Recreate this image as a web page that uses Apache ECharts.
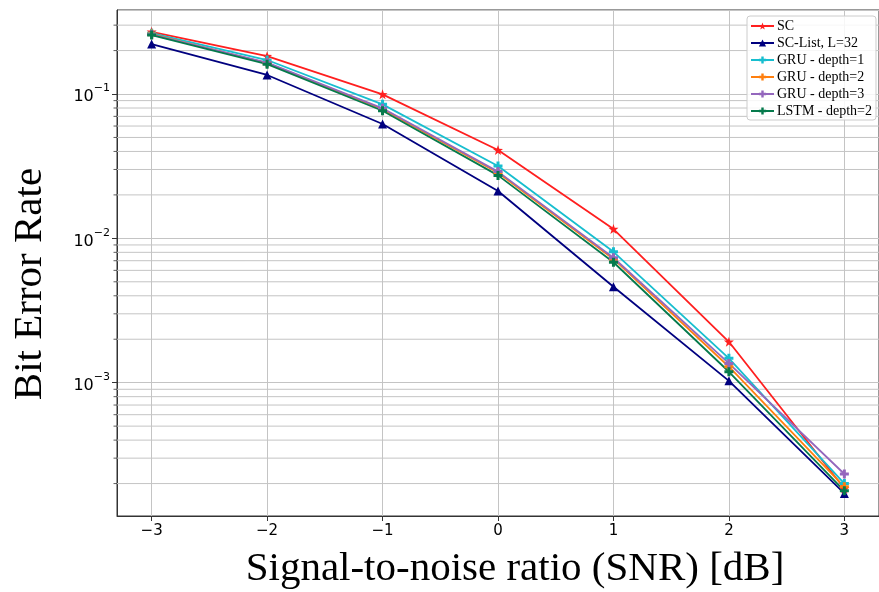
<!DOCTYPE html>
<html>
<head>
<meta charset="utf-8">
<script src="https://cdn.jsdelivr.net/npm/echarts@6/dist/echarts.min.js"></script>
<style>
html,body{margin:0;padding:0;background:#fff;}
#chart{width:879px;height:592px;}
</style>
</head>
<body>
<div id="chart"></div>
<script>
// ---- data ----
const snr = [-3, -2, -1, 0, 1, 2, 3];
const seriesNames = ['SC', 'SC-List, L=32', 'GRU - depth=1', 'GRU - depth=2', 'GRU - depth=3', 'LSTM - depth=2'];
const berSC     = [0.270, 0.183, 0.0995, 0.0409, 0.0116, 0.00192, 0.000185];
const berSCList = [0.222, 0.1355, 0.0620, 0.0213, 0.00462, 0.00103, 0.000171];
const berGRU1   = [0.264, 0.172, 0.0848, 0.0317, 0.00807, 0.001475, 0.000200];
const berGRU2   = [0.260, 0.164, 0.0785, 0.0285, 0.00720, 0.00129, 0.000190];
const berGRU3   = [0.258, 0.165, 0.0796, 0.0290, 0.00734, 0.00136, 0.000233];
const berLSTM   = [0.256, 0.161, 0.0766, 0.0273, 0.00683, 0.00119, 0.000178];
const yMajorExponents = [-3, -2, -1];
const yMinorValues = [2e-4,3e-4,4e-4,5e-4,6e-4,7e-4,8e-4,9e-4,
                      2e-3,3e-3,4e-3,5e-3,6e-3,7e-3,8e-3,9e-3,
                      2e-2,3e-2,4e-2,5e-2,6e-2,7e-2,8e-2,9e-2,
                      2e-1,3e-1];

// ---- styling ----
const colors = ['#ff1f1f', '#00007f', '#17becf', '#ff7f0e', '#9467bd', '#057a4c'];
const starPath = 'path://M0,-10L2.35,-3.24L9.51,-3.09L3.8,1.24L5.88,8.09L0,4L-5.88,8.09L-3.8,1.24L-9.51,-3.09L-2.35,-3.24Z';
const plusPath = 'path://M-1,-3L1,-3L1,-1L3,-1L3,1L1,1L1,3L-1,3L-1,1L-3,1L-3,-1L-1,-1Z';
const symbols = [starPath, 'triangle', plusPath, plusPath, plusPath, plusPath];
const symbolSizes = [10, 9, 9, 9, 9, 9];
const allData = [berSC, berSCList, berGRU1, berGRU2, berGRU3, berLSTM];

const xMin = -3.3, xMax = 3.3;
const yMin = -3.9237, yMax = -0.4179;
const supMinus = '\u2212';

const lineSeries = seriesNames.map((name, i) => ({
  name: name,
  type: 'line',
  data: snr.map((x, j) => [x, Math.log10(allData[i][j])]),
  symbol: symbols[i],
  symbolSize: symbolSizes[i],
  showAllSymbol: true,
  lineStyle: { color: colors[i], width: 1.8 },
  itemStyle: { color: colors[i] },
  emphasis: { disabled: true },
  animation: false,
  z: 3
}));

const minorSeries = {
  type: 'custom',
  silent: true,
  animation: false,
  clip: false,
  z: 1,
  data: yMinorValues.map(v => [xMin, Math.log10(v)]),
  renderItem: function (params, api) {
    const p = api.coord([api.value(0), api.value(1)]);
    const cs = params.coordSys;
    return {
      type: 'group',
      children: [
        { type: 'line', shape: { x1: cs.x, y1: p[1], x2: cs.x + cs.width, y2: p[1] },
          style: { stroke: '#c4c4c4', lineWidth: 1 } },
        { type: 'line', shape: { x1: cs.x - 3.5, y1: p[1], x2: cs.x, y2: p[1] },
          style: { stroke: '#333', lineWidth: 0.8 } }
      ]
    };
  }
};

const chart = echarts.init(document.getElementById('chart'), null, { renderer: 'canvas' });
chart.setOption({
  backgroundColor: '#fff',
  animation: false,
  grid: { left: 117, top: 10, width: 764, height: 506, show: true, borderColor: '#333', borderWidth: 1, backgroundColor: 'transparent' },
  xAxis: {
    type: 'value', min: xMin, max: xMax, splitNumber: 6,
    axisLine: { show: true, onZero: false, lineStyle: { color: '#333' } },
    axisTick: { show: true, inside: false, length: 5, lineStyle: { color: '#333' } },
    axisLabel: {
      margin: 8, fontSize: 15, color: '#000', fontFamily: 'DejaVu Sans',
      showMinLabel: false, showMaxLabel: false,
      formatter: function (v) {
        if (Math.abs(v - Math.round(v)) > 1e-6) return '';
        v = Math.round(v);
        return v < 0 ? supMinus + Math.abs(v) : String(v);
      }
    },
    splitLine: { show: true, lineStyle: { color: '#c4c4c4', width: 1 } }
  },
  yAxis: {
    type: 'value', min: yMin, max: yMax, splitNumber: 3,
    axisLine: { show: true, onZero: false, lineStyle: { color: '#333' } },
    axisTick: { show: true, inside: false, length: 5, lineStyle: { color: '#333' } },
    axisLabel: {
      margin: 7, color: '#000', fontFamily: 'DejaVu Sans',
      showMinLabel: false, showMaxLabel: false,
      formatter: function (v) {
        if (Math.abs(v - Math.round(v)) > 1e-6) return '';
        v = Math.round(v);
        if (yMajorExponents.indexOf(v) < 0) return '';
        return '{b|10}{s|' + (v < 0 ? supMinus + Math.abs(v) : v) + '}';
      },
      rich: {
        b: { fontSize: 16, fontFamily: 'DejaVu Sans', color: '#000', lineHeight: 22, verticalAlign: 'bottom' },
        s: { fontSize: 11, fontFamily: 'DejaVu Sans', color: '#000', lineHeight: 12, verticalAlign: 'top' }
      }
    },
    splitLine: { show: true, lineStyle: { color: '#c4c4c4', width: 1 } }
  },
  legend: {
    data: seriesNames,
    orient: 'vertical',
    left: 747, top: 16,
    padding: [3, 4, 2, 3],
    itemWidth: 23, itemHeight: 9, itemGap: 3,
    backgroundColor: 'rgba(255,255,255,0.85)',
    borderColor: '#cccccc', borderWidth: 1, borderRadius: 3,
    selectedMode: false,
    textStyle: { fontFamily: 'Liberation Serif', fontSize: 14, color: '#000', lineHeight: 13, padding: [0, 0, 0, -2] }
  },
  graphic: [
    { type: 'text', x: 30, y: 284, rotation: Math.PI / 2,
      style: { text: 'Bit Error Rate', font: '41px "Liberation Serif"', fill: '#000', textAlign: 'center', textVerticalAlign: 'middle' } },
    { type: 'text', x: 515, y: 569,
      style: { text: 'Signal-to-noise ratio (SNR) [dB]', font: '41px "Liberation Serif"', fill: '#000', textAlign: 'center', textVerticalAlign: 'middle' } }
  ],
  series: [minorSeries].concat(lineSeries)
});
</script>
</body>
</html>
